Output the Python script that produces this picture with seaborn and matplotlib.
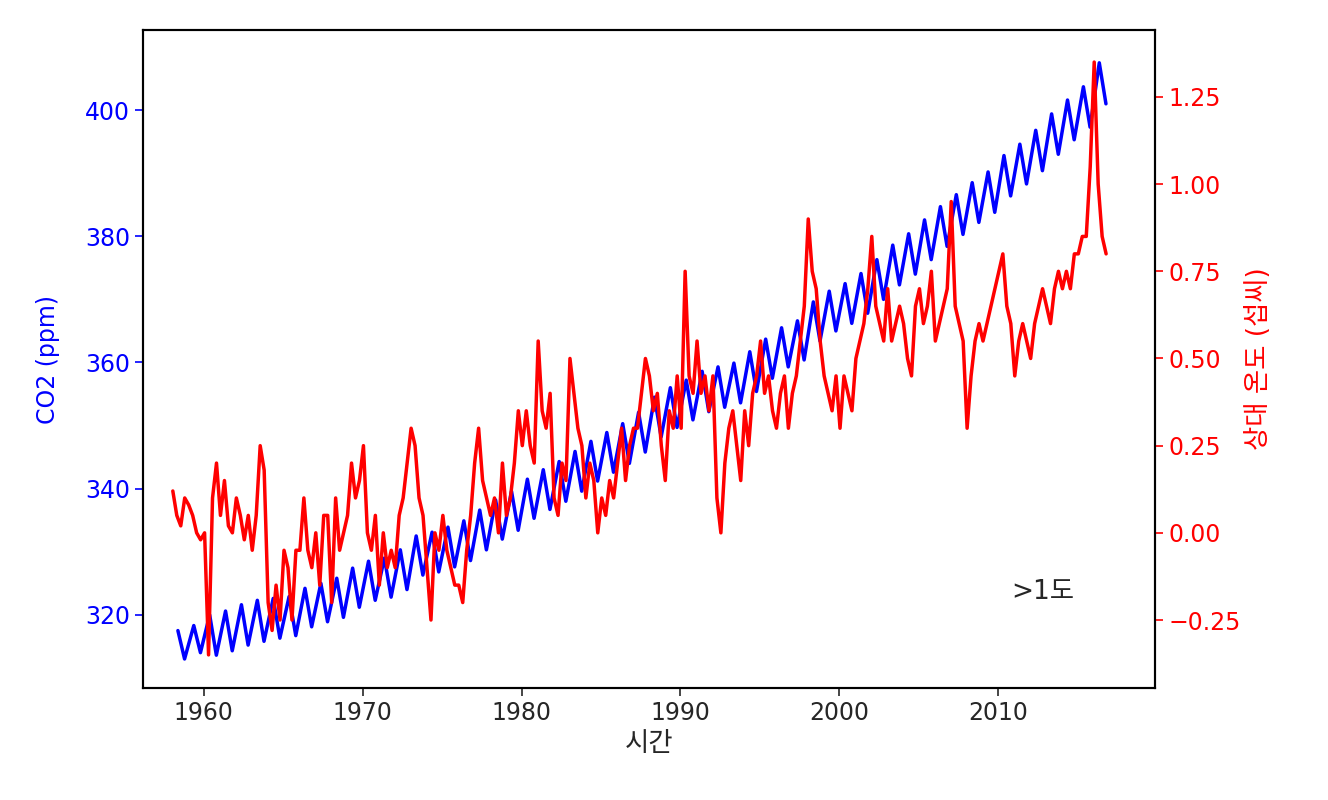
import matplotlib
matplotlib.use("Agg")
import matplotlib.pyplot as plt
import seaborn as sns
import numpy as np
import pandas as pd

sns.set_style("white")
plt.rcParams['font.family'] = ['DejaVu Sans', 'Noto Sans CJK KR']
plt.rcParams['axes.unicode_minus'] = True

years = list(range(1958, 2017))
co2_peaks = [317.5,318.3,320.0,320.6,321.6,322.3,322.6,322.9,324.2,325.0,325.8,327.4,328.5,329.0,330.3,332.5,333.1,333.9,334.9,336.6,
             338.2,339.6,341.5,343.0,344.3,345.9,347.5,348.9,350.3,352.1,354.5,356.0,357.2,358.6,359.3,359.9,361.7,363.7,365.5,366.6,
             369.6,371.3,372.5,374.1,376.3,378.6,380.4,382.6,384.7,386.6,388.5,390.2,392.8,394.6,396.8,399.4,401.6,403.7,407.5]
co2_troughs = [313.0,314.0,313.6,314.3,315.2,315.8,316.3,316.7,318.1,318.9,319.6,321.2,322.3,322.8,324.0,326.3,326.8,327.6,328.6,330.3,
               332.0,333.4,335.3,336.7,338.0,339.6,341.2,342.6,344.0,345.8,348.2,349.7,350.9,352.2,352.9,353.6,355.4,357.5,359.3,360.4,
               363.4,365.0,366.2,367.8,370.0,372.3,374.0,376.3,378.4,380.3,382.2,383.8,386.4,388.3,390.4,393.0,395.3,397.3,401.0]

temp_by_year = [
    [0.12,0.05,0.02,0.10],[0.08,0.05,0.0,-0.02],[0.00,-0.35,0.10,0.20],[0.05,0.15,0.02,0.00],
    [0.10,0.05,-0.02,0.05],[-0.05,0.05,0.25,0.18],[-0.20,-0.28,-0.15,-0.25],[-0.05,-0.10,-0.25,-0.05],
    [-0.05,0.10,-0.05,-0.10],[0.00,-0.15,0.05,0.05],[-0.20,0.10,-0.05,0.00],[0.05,0.20,0.10,0.15],
    [0.25,0.00,-0.05,0.05],[-0.15,0.00,-0.10,-0.05],[-0.10,0.05,0.10,0.20],[0.30,0.25,0.10,0.05],
    [-0.10,-0.25,0.00,-0.05],[0.05,-0.05,-0.10,-0.15],[-0.15,-0.20,-0.05,0.05],[0.20,0.30,0.15,0.10],
    [0.05,0.10,0.00,0.20],[0.05,0.10,0.20,0.35],[0.25,0.35,0.25,0.20],[0.55,0.35,0.30,0.40],
    [0.10,0.05,0.20,0.15],[0.50,0.40,0.30,0.25],[0.10,0.20,0.15,0.00],[0.10,0.05,0.15,0.10],
    [0.20,0.30,0.15,0.25],[0.30,0.30,0.40,0.50],[0.45,0.35,0.40,0.25],[0.15,0.35,0.30,0.45],
    [0.30,0.75,0.45,0.40],[0.55,0.40,0.45,0.35],[0.45,0.10,0.00,0.20],[0.30,0.35,0.25,0.15],
    [0.35,0.25,0.40,0.45],[0.55,0.40,0.45,0.35],[0.30,0.40,0.45,0.30],[0.40,0.45,0.55,0.65],
    [0.90,0.75,0.70,0.55],[0.45,0.40,0.35,0.45],[0.30,0.45,0.40,0.35],[0.50,0.55,0.60,0.70],
    [0.85,0.65,0.60,0.55],[0.70,0.55,0.60,0.65],[0.60,0.50,0.45,0.65],[0.70,0.60,0.65,0.75],
    [0.55,0.60,0.65,0.70],[0.95,0.65,0.60,0.55],[0.30,0.45,0.55,0.60],[0.55,0.60,0.65,0.70],
    [0.75,0.80,0.65,0.60],[0.45,0.55,0.60,0.55],[0.50,0.60,0.65,0.70],[0.65,0.60,0.70,0.75],
    [0.70,0.75,0.70,0.80],[0.80,0.85,0.85,1.05],[1.35,1.00,0.85,0.80]]

co2_t, co2_v = [], []
for y, p, t in zip(years, co2_peaks, co2_troughs):
    co2_t += [y + 0.37, y + 0.79]
    co2_v += [p, t]
co2_df = pd.DataFrame({"t": co2_t, "v": co2_v})

tmp_t, tmp_v = [], []
for y, vals in zip(years, temp_by_year):
    for i, v in enumerate(vals):
        tmp_t.append(y + 0.05 + i * 0.25)
        tmp_v.append(v)
tmp_df = pd.DataFrame({"t": tmp_t, "v": tmp_v})

fig = plt.figure(figsize=(13.28, 8), dpi=100)
ax = fig.add_axes([0.108, 0.14, 0.762, 0.8225])
sns.lineplot(data=co2_df, x="t", y="v", ax=ax, color="blue", linewidth=2.5, sort=False)
ax.set_xlim(1956.2, 2019.9)
ax.set_ylim(308.4, 412.7)
ax.set_ylabel("CO2 (ppm)", color="blue", fontsize=17, labelpad=18)
ax.set_xlabel("시간", fontsize=19)
ax.tick_params(axis="y", colors="blue", labelsize=17, length=6, width=1.2, left=True)
ax.tick_params(axis="x", labelsize=17, length=6, width=1.2, bottom=True)
ax.set_xticks([1960, 1970, 1980, 1990, 2000, 2010])
ax.set_yticks([320, 340, 360, 380, 400])

ax2 = ax.twinx()
sns.lineplot(data=tmp_df, x="t", y="v", ax=ax2, color="red", linewidth=2.5, sort=False)
ax2.set_ylim(-0.445, 1.442)
ax2.set_yticks([-0.25, 0.0, 0.25, 0.5, 0.75, 1.0, 1.25])
ax2.set_yticklabels(["−0.25", "0.00", "0.25", "0.50", "0.75", "1.00", "1.25"])
ax2.set_ylabel("상대 온도 (섭씨)", color="red", fontsize=19)
ax2.tick_params(axis="y", colors="red", labelsize=17, length=6, width=1.2, right=True)
ax2.text(2010.8, -0.19, ">1도", fontsize=19)

for a in (ax, ax2):
    for s in a.spines.values():
        s.set_color("black")
        s.set_linewidth(1.5)

fig.savefig("out.png", dpi=100)
